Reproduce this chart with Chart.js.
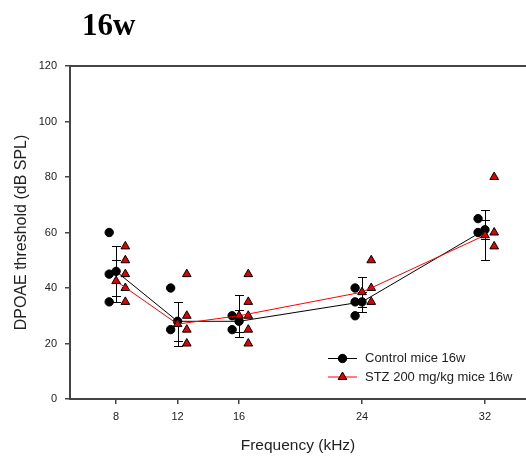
<!DOCTYPE html>
<html>
<head>
<meta charset="utf-8">
<script src="https://cdn.jsdelivr.net/npm/chart.js@4/dist/chart.umd.min.js"></script>
<style>
html, body { margin: 0; padding: 0; background: #fff; }
#wrap { position: relative; width: 526px; height: 457px; overflow: hidden; }
#chart { position: absolute; left: 0; top: 0; }
#title { position: absolute; left: 82px; top: 9px; font: bold 31px 'Liberation Serif', 'Times New Roman', serif; line-height: 31px; color: #000; }
</style>
</head>
<body>
<div id="wrap">
<!-- canvas is a few px wider than the page: Chart.js keeps a small gap on the right of the x axis, the figure's axis runs to the edge -->
<canvas id="chart" width="532" height="457"></canvas>
<div id="title">16w</div>
</div>
<script>
// values
const freqs = [8, 12, 16, 24, 32];
const controlMean = [46, 28, 28, 35, 61];
const controlErr = [9, 7, 4, 3.5, 3.5];
const stzMean = [42.5, 27, 30, 38.5, 59];
const stzErr = [7.5, 8, 7.5, 5.5, 9];
const controlDots = [[60, 45, 35], [40, 25], [30, 25], [40, 35, 30], [65, 60]];
const stzDots = [[55, 50, 45, 40, 35], [45, 30, 25, 20], [45, 35, 30, 25, 20], [50, 40, 35], [80, 60, 55]];
const yTicks = [0, 20, 40, 60, 80, 100, 120];
const seriesNames = ['Control mice 16w', 'STZ 200 mg/kg mice 16w'];

// dots are drawn a little to either side of their frequency
const controlShift = -0.45;
const stzShift = 0.6;
const FONT = "'Liberation Sans', Arial, sans-serif";

const spread = (groups, shift) => {
    const out = [];
    groups.forEach((vals, i) => vals.forEach(v => out.push({x: freqs[i] + shift, y: v})));
    return out;
};

const errorBars = {
    id: 'errorBars',
    beforeDatasetsDraw(chart) {
        const {ctx, scales: {x, y}} = chart;
        ctx.save();
        ctx.strokeStyle = '#000';
        ctx.lineWidth = 1;
        [[controlMean, controlErr], [stzMean, stzErr]].forEach(([m, e]) => {
            freqs.forEach((f, i) => {
                const px = Math.round(x.getPixelForValue(f)) + 0.5;
                const top = Math.round(y.getPixelForValue(m[i] + e[i])) + 0.5;
                const bot = Math.round(y.getPixelForValue(m[i] - e[i])) + 0.5;
                ctx.beginPath();
                ctx.moveTo(px, top); ctx.lineTo(px, bot);
                ctx.moveTo(px - 4.5, top); ctx.lineTo(px + 4.5, top);
                ctx.moveTo(px - 4.5, bot); ctx.lineTo(px + 4.5, bot);
                ctx.stroke();
            });
        });
        ctx.restore();
    }
};

const drawMark = (ctx, style, r, x, y) => {
    ctx.beginPath();
    if (style === 'triangle') {
        ctx.moveTo(x, y - r);
        ctx.lineTo(x + r * Math.sin(Math.PI * 2 / 3), y + r / 2);
        ctx.lineTo(x - r * Math.sin(Math.PI * 2 / 3), y + r / 2);
        ctx.closePath();
    } else {
        ctx.arc(x, y, r, 0, Math.PI * 2);
    }
    ctx.fill();
    ctx.stroke();
};

const frameAndLegend = {
    id: 'frameAndLegend',
    afterDraw(chart) {
        const {ctx, chartArea: a} = chart;
        ctx.save();
        // top frame line
        ctx.strokeStyle = '#444';
        ctx.lineWidth = 2;
        ctx.beginPath();
        ctx.moveTo(a.left - 1, a.top);
        ctx.lineTo(a.right, a.top);
        ctx.stroke();
        // legend, lower right inside the plot
        [chart.data.datasets[2], chart.data.datasets[3]].forEach((ds, i) => {
            const yy = 358.5 + i * 18.5;
            ctx.strokeStyle = ds.borderColor;
            ctx.lineWidth = 1;
            ctx.beginPath();
            ctx.moveTo(328, yy); ctx.lineTo(357, yy);
            ctx.stroke();
            ctx.fillStyle = ds.pointBackgroundColor;
            ctx.strokeStyle = ds.pointBorderColor;
            drawMark(ctx, ds.pointStyle, ds.pointRadius, 342.5, yy);
            ctx.fillStyle = '#222';
            ctx.font = '13px ' + FONT;
            ctx.textBaseline = 'middle';
            ctx.textAlign = 'left';
            ctx.fillText(ds.label, 365, yy);
        });
        ctx.restore();
    }
};

new Chart(document.getElementById('chart'), {
    type: 'scatter',
    data: {
        datasets: [
            {
                label: 'control dots',
                data: spread(controlDots, controlShift),
                pointStyle: 'circle',
                pointRadius: 4.2,
                pointBackgroundColor: '#000',
                pointBorderColor: '#000',
                pointBorderWidth: 1,
                order: 4,
            },
            {
                label: 'stz dots',
                data: spread(stzDots, stzShift),
                pointStyle: 'triangle',
                pointRadius: 5,
                pointBackgroundColor: '#e00000',
                pointBorderColor: '#000',
                pointBorderWidth: 1,
                order: 3,
            },
            {
                label: seriesNames[0],
                data: freqs.map((f, i) => ({x: f, y: controlMean[i]})),
                showLine: true,
                borderColor: '#000',
                borderWidth: 1,
                pointStyle: 'circle',
                pointRadius: 4.2,
                pointBackgroundColor: '#000',
                pointBorderColor: '#000',
                pointBorderWidth: 1,
                order: 2,
            },
            {
                label: seriesNames[1],
                data: freqs.map((f, i) => ({x: f, y: stzMean[i]})),
                showLine: true,
                borderColor: '#ff0000',
                borderWidth: 1,
                pointStyle: 'triangle',
                pointRadius: 5,
                pointBackgroundColor: '#e00000',
                pointBorderColor: '#000',
                pointBorderWidth: 1,
                order: 1,
            },
        ]
    },
    options: {
        responsive: false,
        animation: false,
        layout: { padding: { top: 66, right: 0, bottom: 0, left: 0 } },
        plugins: {
            legend: { display: false },
            tooltip: { enabled: false },
        },
        scales: {
            x: {
                type: 'linear',
                min: 5,
                max: 34.67,
                afterBuildTicks: s => { s.ticks = freqs.map(v => ({value: v})); },
                afterFit: s => { s.height = 58; },
                grid: { drawOnChartArea: false, drawTicks: true, tickLength: 5, color: '#444', lineWidth: 1.5 },
                border: { color: '#444', width: 2 },
                ticks: { color: '#222', font: { size: 11, family: FONT }, padding: 6, maxRotation: 0 },
                title: { display: true, text: 'Frequency (kHz)', color: '#222', font: { size: 15.5, family: FONT }, padding: { top: 0, bottom: 2 } },
            },
            y: {
                min: 0,
                max: 120,
                afterBuildTicks: s => { s.ticks = yTicks.map(v => ({value: v})); },
                afterFit: s => { s.width = 70; },
                grid: { drawOnChartArea: false, drawTicks: true, tickLength: 5, color: '#444', lineWidth: 1.5 },
                border: { color: '#444', width: 2 },
                ticks: { color: '#222', font: { size: 11, family: FONT }, padding: 8 },
                title: { display: true, text: 'DPOAE threshold (dB SPL)', color: '#222', font: { size: 16, family: FONT }, padding: { top: 12, bottom: 0 } },
            },
        }
    },
    plugins: [errorBars, frameAndLegend]
});
</script>
</body>
</html>
